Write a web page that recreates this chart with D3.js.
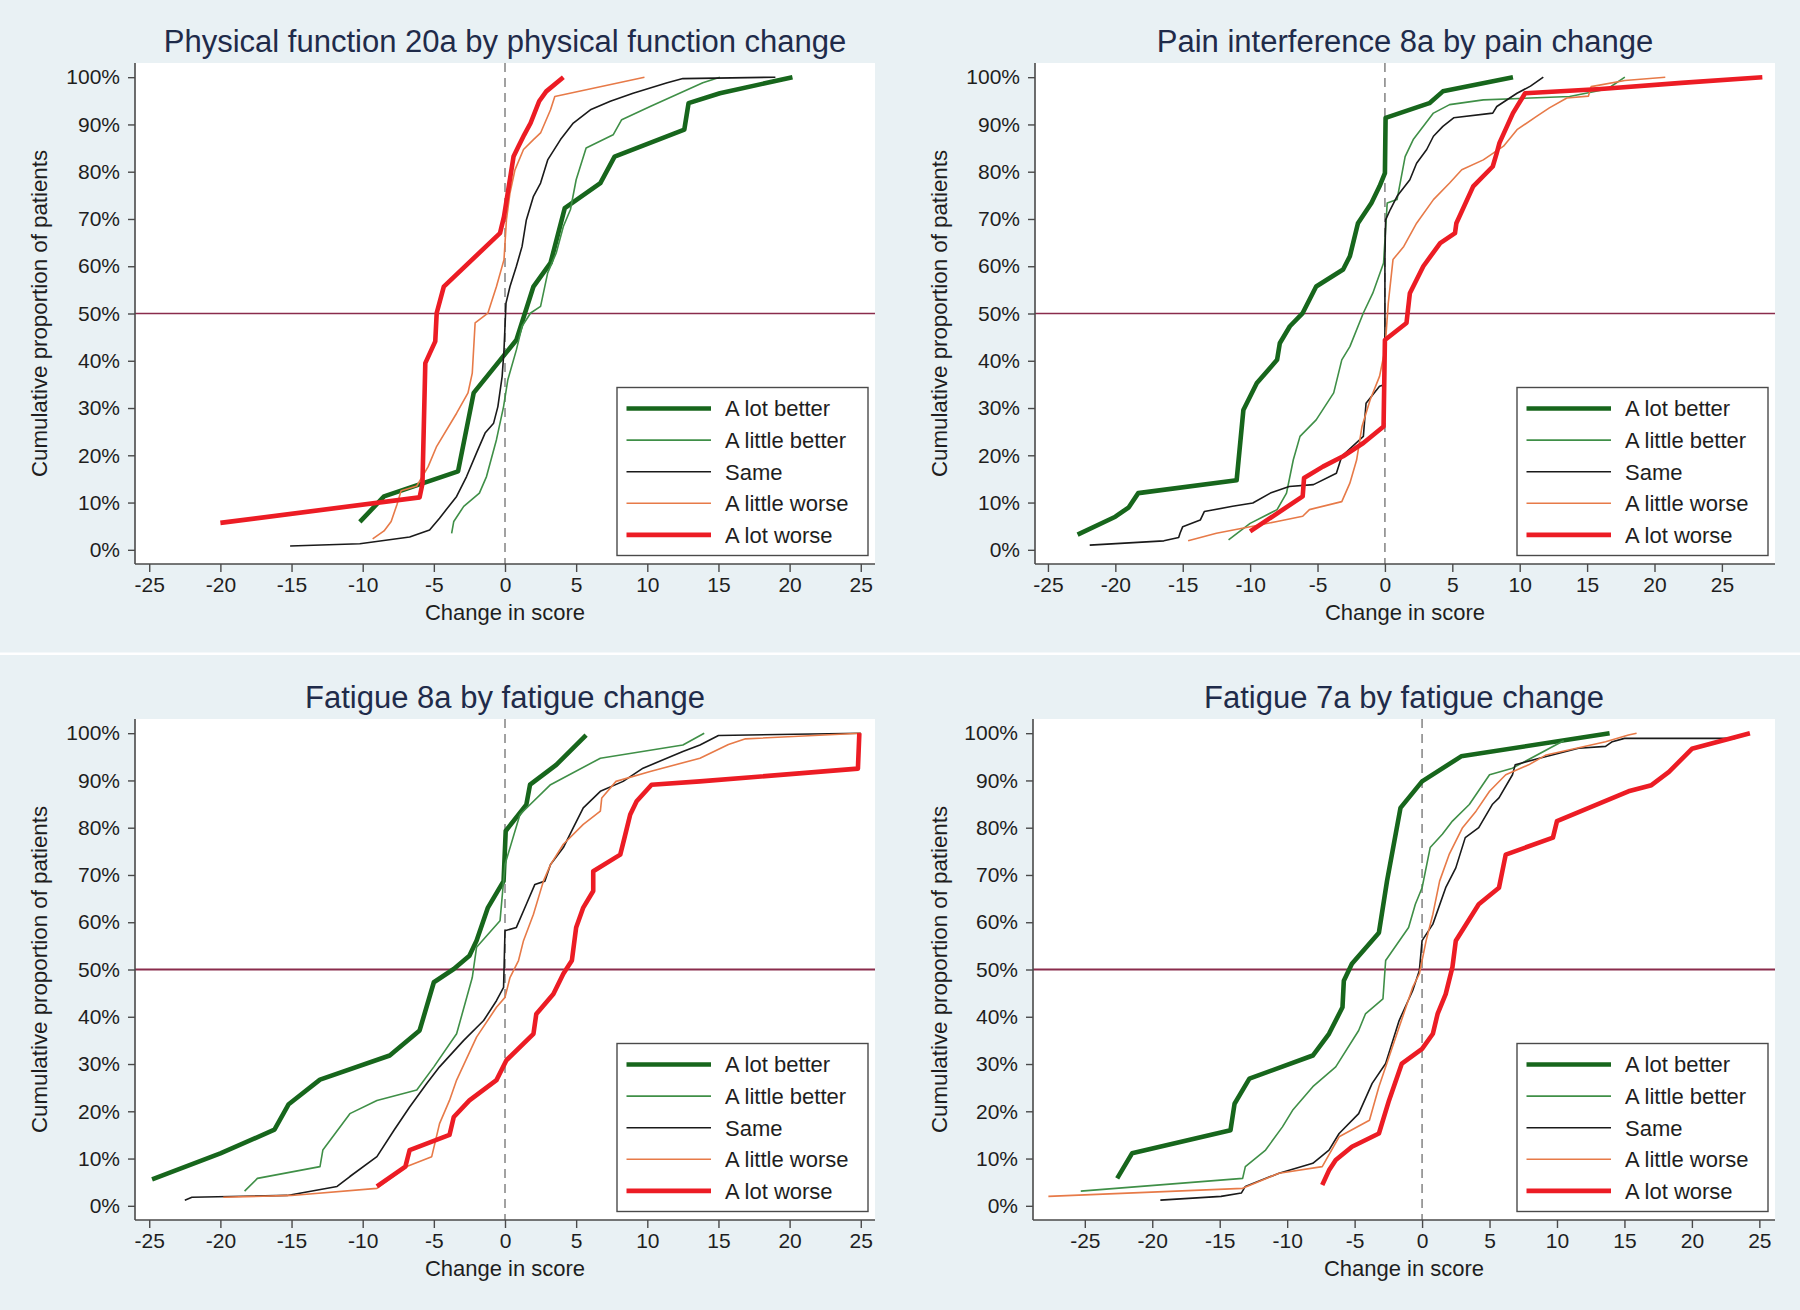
<!DOCTYPE html>
<html>
<head>
<meta charset="utf-8">
<script src="https://cdn.jsdelivr.net/npm/d3@7"></script>
<style>
  html, body { margin: 0; padding: 0; background: #e9f1f4; }
  svg { display: block; }
  text { font-family: "Liberation Sans", Arial, Helvetica, sans-serif; }
</style>
</head>
<body>
<svg id="chart" width="1800" height="1310"></svg>
<script>
// ---------------- DATA ----------------
const seriesNames = ["A lot better", "A little better", "Same", "A little worse", "A lot worse"];
const panelTitles = [
  "Physical function 20a by physical function change",
  "Pain interference 8a by pain change",
  "Fatigue 8a by fatigue change",
  "Fatigue 7a by fatigue change"
];
const xTickValues = [-25, -20, -15, -10, -5, 0, 5, 10, 15, 20, 25];
const yTickValues = [0, 10, 20, 30, 40, 50, 60, 70, 80, 90, 100];
const xAxisTitle = "Change in score";
const yAxisTitle = "Cumulative proportion of patients";
const referenceLevel = 50;

// Panel 1: Physical function 20a  ([change, cumulative %])
const pfLotBetter = [[-10.2,5.9],[-8.5,11.3],[-3.3,16.6],[-2.2,33.2],[0.8,44.4],[2.0,55.7],[3.2,60.7],[4.2,72.3],[6.7,77.6],[7.7,83.2],[12.6,88.9],[12.9,94.5],[15.1,96.6],[20.2,100]];
const pfLittleBetter = [[-3.75,3.5],[-3.6,6.0],[-2.9,9.2],[-1.8,12.0],[-1.3,15.5],[-0.6,23.3],[-0.1,30.3],[0.2,36.0],[0.8,42.3],[1.2,47.3],[1.8,50.1],[2.5,51.5],[3.0,58.6],[3.6,62.8],[4.1,68.4],[4.6,72.0],[5.0,78.3],[5.7,85.0],[7.6,87.8],[8.2,91.0],[10.2,93.8],[13.9,98.8],[15.1,100]];
const pfSame = [[-15.1,0.8],[-10.2,1.3],[-6.7,2.7],[-5.3,4.2],[-4.6,6.7],[-3.4,11.3],[-2.7,15.5],[-2.0,20.5],[-1.4,24.7],[-0.8,26.8],[-0.5,30.3],[-0.2,36.7],[-0.07,42.3],[0.07,52.2],[0.35,55.7],[0.8,60.0],[1.2,64.2],[1.5,69.8],[2.0,74.8],[2.5,77.6],[3.0,82.5],[3.9,86.8],[4.8,90.3],[6.0,93.1],[7.4,94.9],[9.0,96.6],[11.4,98.8],[12.5,99.7],[19.0,100]];
const pfLittleWorse = [[-9.3,2.3],[-8.5,4.0],[-8.0,6.0],[-7.6,9.5],[-7.3,12.5],[-6.2,13.5],[-5.4,17.6],[-4.8,21.9],[-3.4,28.9],[-2.6,33.2],[-2.3,37.4],[-2.1,48.0],[-1.2,50.1],[-0.6,55.7],[-0.07,61.4],[0.1,69.8],[0.35,75.5],[0.7,80.4],[1.3,84.7],[2.0,86.8],[2.5,88.2],[3.2,93.1],[3.5,95.9],[9.8,100]];
const pfLotWorse = [[-20.0,5.7],[-6.0,11.1],[-5.8,14.0],[-5.6,39.5],[-4.9,44.1],[-4.8,50.1],[-4.3,55.7],[-0.35,67.0],[-0.07,70.5],[0.23,76.2],[0.6,83.2],[0.95,85.4],[1.35,87.8],[1.8,90.3],[2.4,94.9],[2.9,97.0],[4.1,100]];

// Panel 2: Pain interference 8a
const piLotBetter = [[-22.8,3.2],[-20.0,7.0],[-19.0,9.0],[-18.3,12.0],[-11.0,14.7],[-10.5,29.6],[-9.5,35.3],[-8.0,40.2],[-7.8,43.7],[-7.05,47.3],[-6.1,50.1],[-5.6,52.9],[-5.1,55.7],[-3.1,59.3],[-2.6,62.1],[-2.0,69.1],[-1.0,73.4],[-0.4,76.9],[0.0,79.7],[0.05,91.4],[3.3,94.5],[4.3,97.0],[9.5,100]];
const piLittleBetter = [[-11.6,2.1],[-10.0,5.6],[-8.0,8.5],[-7.3,12.0],[-6.8,19.0],[-6.3,24.0],[-5.1,27.5],[-3.8,33.2],[-3.2,40.2],[-2.6,43.0],[-1.6,50.1],[-0.9,54.3],[-0.1,60.7],[0.17,73.4],[0.9,74.1],[1.5,83.2],[2.1,86.8],[3.6,92.4],[4.8,94.2],[7.3,95.2],[13.7,95.9],[16.5,97.5],[17.8,100]];
const piSame = [[-21.9,1.0],[-16.4,1.9],[-15.3,2.6],[-15.2,3.5],[-15.0,4.9],[-13.7,6.3],[-13.4,8.1],[-11.3,9.2],[-9.8,9.9],[-8.5,12.0],[-7.1,13.4],[-5.3,13.8],[-3.6,16.2],[-3.2,19.8],[-1.6,24.0],[-1.4,31.0],[-0.4,34.6],[0.0,35.0],[0.0,61.4],[0.05,69.8],[0.4,72.0],[0.9,74.8],[1.85,78.3],[2.35,81.8],[3.1,84.7],[3.6,87.5],[4.3,89.6],[5.1,91.4],[8.0,92.4],[8.3,93.8],[9.8,96.6],[10.8,98.1],[11.75,100]];
const piLittleWorse = [[-14.6,1.9],[-12.5,3.5],[-10.0,4.9],[-8.0,6.0],[-6.1,7.1],[-5.6,8.5],[-3.2,10.2],[-2.6,14.1],[-2.1,19.0],[-1.7,26.1],[-1.1,31.7],[-0.4,36.7],[0.0,42.3],[0.25,52.2],[0.6,61.4],[1.4,64.2],[2.35,69.1],[3.6,74.1],[4.8,77.6],[5.7,80.4],[7.3,82.5],[8.8,85.4],[9.8,88.9],[11.25,91.7],[12.2,93.5],[13.5,95.6],[15.1,96.0],[15.3,98.0],[17.8,99.3],[20.8,100]];
const piLotWorse = [[-10.0,3.9],[-6.1,11.3],[-6.0,15.2],[-4.6,17.6],[-3.1,19.8],[-1.6,22.6],[-0.1,26.1],[0.0,44.4],[1.6,48.0],[1.85,54.3],[2.85,60.0],[4.1,64.9],[5.2,67.0],[5.3,69.1],[6.55,76.9],[8.0,81.1],[8.3,84.0],[8.5,86.1],[9.5,92.4],[10.4,96.6],[16.0,97.5],[22.0,98.8],[28.0,100]];

// Panel 3: Fatigue 8a
const f8LotBetter = [[-24.8,5.6],[-20.0,11.1],[-16.2,16.1],[-15.2,21.5],[-13.0,26.7],[-8.1,31.8],[-6.0,37.1],[-5.0,47.3],[-3.6,50.1],[-2.5,52.9],[-2.0,56.1],[-1.2,63.1],[-0.1,68.7],[0.05,79.3],[1.5,84.9],[1.76,89.1],[3.6,93.3],[5.7,99.6]];
const f8LittleBetter = [[-18.3,3.1],[-17.4,5.8],[-13.0,8.3],[-12.8,11.8],[-10.9,19.5],[-9.0,22.3],[-6.2,24.5],[-5.0,29.4],[-3.4,36.4],[-2.3,48.3],[-2.0,54.7],[-0.35,60.3],[0.0,72.2],[1.05,82.8],[3.2,89.1],[6.7,94.7],[12.5,97.5],[14.0,100]];
const f8Same = [[-22.5,1.2],[-22.0,1.8],[-15.3,2.2],[-11.8,4.1],[-10.9,6.2],[-9.0,10.4],[-7.8,16.0],[-6.7,20.9],[-5.5,25.9],[-4.6,29.4],[-2.9,35.0],[-1.5,39.2],[-0.6,43.4],[-0.1,46.2],[0.0,58.2],[0.8,58.9],[1.5,63.8],[2.1,68.0],[2.8,68.7],[3.2,72.2],[4.1,75.8],[4.8,80.0],[5.5,84.2],[6.7,87.7],[8.3,89.8],[9.7,92.6],[12.5,96.1],[13.7,97.5],[15.0,99.5],[25.0,100]];
const f8LittleWorse = [[-19.8,1.8],[-15.0,2.2],[-9.0,3.7],[-6.9,8.3],[-5.15,10.4],[-4.6,17.4],[-3.9,22.3],[-3.4,26.6],[-2.0,35.7],[-0.6,42.0],[0.0,44.1],[0.35,48.3],[0.95,51.9],[1.3,56.1],[2.0,61.7],[2.7,68.7],[3.2,72.2],[4.1,76.5],[5.5,80.7],[6.7,83.5],[6.8,86.3],[7.8,89.8],[10.2,91.9],[13.7,94.7],[15.7,97.6],[16.9,98.8],[25.0,100]];
const f8LotWorse = [[-9.0,4.1],[-7.0,8.3],[-6.7,11.8],[-3.9,15.0],[-3.6,18.8],[-2.5,22.3],[-0.6,26.6],[0.1,30.8],[2.0,36.4],[2.2,40.6],[3.4,44.8],[4.1,49.1],[4.7,51.9],[5.0,58.9],[5.5,63.1],[6.2,66.6],[6.2,70.8],[8.1,74.3],[8.4,77.9],[8.8,82.8],[9.25,85.6],[10.3,89.1],[13.7,89.8],[24.8,92.5],[24.9,100]];

// Panel 4: Fatigue 7a
const f7LotBetter = [[-22.6,5.8],[-21.5,11.1],[-14.2,16.0],[-13.9,21.6],[-12.8,26.9],[-8.1,31.8],[-6.9,36.4],[-5.9,42.0],[-5.8,47.6],[-5.2,51.2],[-3.2,57.8],[-2.6,68.7],[-1.6,84.2],[0.0,89.8],[2.9,95.1],[13.9,100]];
const f7LittleBetter = [[-25.3,3.1],[-13.3,5.8],[-13.1,8.3],[-11.6,11.8],[-10.35,16.7],[-9.6,20.2],[-8.1,25.2],[-6.4,29.4],[-4.7,37.1],[-4.2,40.6],[-2.9,43.8],[-2.7,51.9],[-1.0,58.9],[-0.5,63.8],[0.0,67.3],[0.6,75.8],[1.5,78.6],[2.25,81.4],[3.5,84.9],[5.0,91.2],[6.7,92.6],[9.9,97.5],[10.5,98.4]];
const f7Same = [[-19.4,1.2],[-14.9,2.0],[-13.4,2.7],[-13.1,4.1],[-10.6,6.9],[-8.1,9.0],[-6.9,11.8],[-6.15,15.3],[-4.7,19.5],[-3.7,25.9],[-2.7,30.1],[-1.7,39.2],[-0.7,45.5],[-0.2,49.8],[0.0,56.1],[0.8,59.6],[1.75,67.3],[2.5,71.5],[3.2,77.9],[4.2,80.0],[5.2,84.9],[5.7,86.3],[6.7,91.2],[6.9,93.3],[8.7,94.7],[11.6,96.8],[13.6,97.2],[14.1,98.2],[15.0,98.9],[23.2,98.9],[24.2,100]];
const f7LittleWorse = [[-27.7,2.0],[-13.3,3.7],[-10.6,6.9],[-7.4,8.3],[-6.15,14.6],[-3.9,18.1],[-3.2,25.2],[-2.2,33.6],[-0.7,46.2],[-0.2,49.1],[0.3,56.1],[0.8,61.7],[1.3,68.7],[2.0,74.3],[3.0,80.0],[4.0,83.5],[5.0,87.7],[6.2,91.2],[7.9,93.3],[9.2,95.4],[13.6,98.2],[15.3,99.6],[15.9,100]];
const f7LotWorse = [[-7.4,4.4],[-6.9,7.5],[-6.4,9.7],[-5.2,12.5],[-3.2,15.3],[-2.45,22.3],[-1.5,30.1],[0.0,33.2],[0.8,36.4],[1.15,40.6],[1.75,44.8],[2.25,50.5],[2.5,56.1],[4.2,63.8],[5.7,67.3],[6.2,74.3],[9.7,77.9],[10.0,81.4],[15.3,87.7],[17.0,89.0],[18.3,91.8],[20.0,96.7],[24.3,100]];

const panelSeries = [
  [pfLotBetter, pfLittleBetter, pfSame, pfLittleWorse, pfLotWorse],
  [piLotBetter, piLittleBetter, piSame, piLittleWorse, piLotWorse],
  [f8LotBetter, f8LittleBetter, f8Same, f8LittleWorse, f8LotWorse],
  [f7LotBetter, f7LittleBetter, f7Same, f7LittleWorse, f7LotWorse]
];
const panelXDomains = [[-26, 26], [-25.96, 28.94], [-26, 26], [-28.84, 26.16]];

// ---------------- STYLE / LAYOUT ----------------
const seriesColors = ["#17661c", "#3f8f47", "#1a1a1a", "#e77a48", "#ec1c24"];
const seriesWidths = [4.6, 1.6, 1.6, 1.6, 4.6];
const panelBoxes = [
  { left: 135, right: 875, top: 63, bottom: 564 },
  { left: 1035, right: 1775, top: 63, bottom: 564 },
  { left: 135, right: 875, top: 719, bottom: 1220 },
  { left: 1033, right: 1775, top: 719, bottom: 1220 }
];
const yAxisTitleX = [39, 939, 39, 939];

const svg = d3.select("#chart");
svg.append("rect").attr("x", 0).attr("y", 0).attr("width", 1800).attr("height", 1310).attr("fill", "#e9f1f4");
svg.append("rect").attr("x", 0).attr("y", 652.5).attr("width", 1800).attr("height", 2.5).attr("fill", "#ffffff");

const axisColor = "#4a4a4a";
const textColor = "#1e1e1e";

panelBoxes.forEach((b, i) => {
  const g = svg.append("g");
  const x = d3.scaleLinear().domain(panelXDomains[i]).range([b.left, b.right]);
  const y = d3.scaleLinear().domain([-3.0, 103.0]).range([b.bottom, b.top]);

  // plot region
  g.append("rect").attr("x", b.left).attr("y", b.top)
    .attr("width", b.right - b.left).attr("height", b.bottom - b.top).attr("fill", "#ffffff");

  // title
  g.append("text").attr("x", (b.left + b.right) / 2).attr("y", b.top - 11)
    .attr("text-anchor", "middle").attr("font-size", 31).attr("fill", "#1f2b4a")
    .text(panelTitles[i]);

  // reference lines
  g.append("line").attr("x1", b.left).attr("x2", b.right)
    .attr("y1", y(referenceLevel)).attr("y2", y(referenceLevel))
    .attr("stroke", "#8a2c4c").attr("stroke-width", i >= 2 ? 2.2 : 1.5);
  g.append("line").attr("x1", x(0)).attr("x2", x(0))
    .attr("y1", b.top).attr("y2", b.bottom)
    .attr("stroke", "#8a8a8a").attr("stroke-width", 1.6).attr("stroke-dasharray", "9,6");

  // series
  const line = d3.line().x(d => x(d[0])).y(d => y(d[1]));
  panelSeries[i].forEach((data, k) => {
    g.append("path").datum(data).attr("d", line)
      .attr("fill", "none").attr("stroke", seriesColors[k])
      .attr("stroke-width", seriesWidths[k])
      .attr("stroke-linejoin", "round").attr("stroke-linecap", "butt");
  });

  // axes
  const xAxis = d3.axisBottom(x).tickValues(xTickValues).tickSize(8).tickPadding(5).tickFormat(d => String(d));
  const gx = g.append("g").attr("transform", `translate(0,${b.bottom})`).call(xAxis);
  gx.select(".domain").attr("stroke", axisColor).attr("stroke-width", 1.6)
    .attr("d", `M${b.left},0H${b.right}`);
  gx.selectAll(".tick line").attr("stroke", axisColor).attr("stroke-width", 1.4);
  gx.selectAll(".tick text").attr("font-size", 21).attr("fill", textColor)
    .attr("font-family", "Liberation Sans, Arial, sans-serif");

  const yAxis = d3.axisLeft(y).tickValues(yTickValues).tickSize(7).tickPadding(8).tickFormat(d => d + "%");
  const gy = g.append("g").attr("transform", `translate(${b.left},0)`).call(yAxis);
  gy.select(".domain").attr("stroke", axisColor).attr("stroke-width", 1.6)
    .attr("d", `M0,${b.top}V${b.bottom}`);
  gy.selectAll(".tick line").attr("stroke", axisColor).attr("stroke-width", 1.4);
  gy.selectAll(".tick text").attr("font-size", 21).attr("fill", textColor)
    .attr("font-family", "Liberation Sans, Arial, sans-serif");

  // axis titles
  g.append("text").attr("x", (b.left + b.right) / 2).attr("y", b.bottom + 56)
    .attr("text-anchor", "middle").attr("font-size", 22).attr("fill", textColor)
    .text(xAxisTitle);
  const cy = (b.top + b.bottom) / 2;
  g.append("text").attr("transform", `translate(${yAxisTitleX[i] + 8},${cy}) rotate(-90)`)
    .attr("text-anchor", "middle").attr("font-size", 22.3).attr("fill", textColor)
    .text(yAxisTitle);

  // legend
  const lw = 251, lh = 168;
  const lx = b.right - 7 - lw, ly = b.bottom - 8.5 - lh;
  const lg = g.append("g").attr("transform", `translate(${lx},${ly})`);
  lg.append("rect").attr("x", 0).attr("y", 0).attr("width", lw).attr("height", lh)
    .attr("fill", "#ffffff").attr("stroke", "#4a4a4a").attr("stroke-width", 1.4);
  seriesNames.forEach((name, k) => {
    const ry = 21 + k * 31.6;
    lg.append("line").attr("x1", 9.5).attr("x2", 94).attr("y1", ry).attr("y2", ry)
      .attr("stroke", seriesColors[k]).attr("stroke-width", seriesWidths[k]);
    lg.append("text").attr("x", 108).attr("y", ry).attr("dy", "0.36em")
      .attr("font-size", 22).attr("fill", textColor).text(name);
  });
});
</script>
</body>
</html>
